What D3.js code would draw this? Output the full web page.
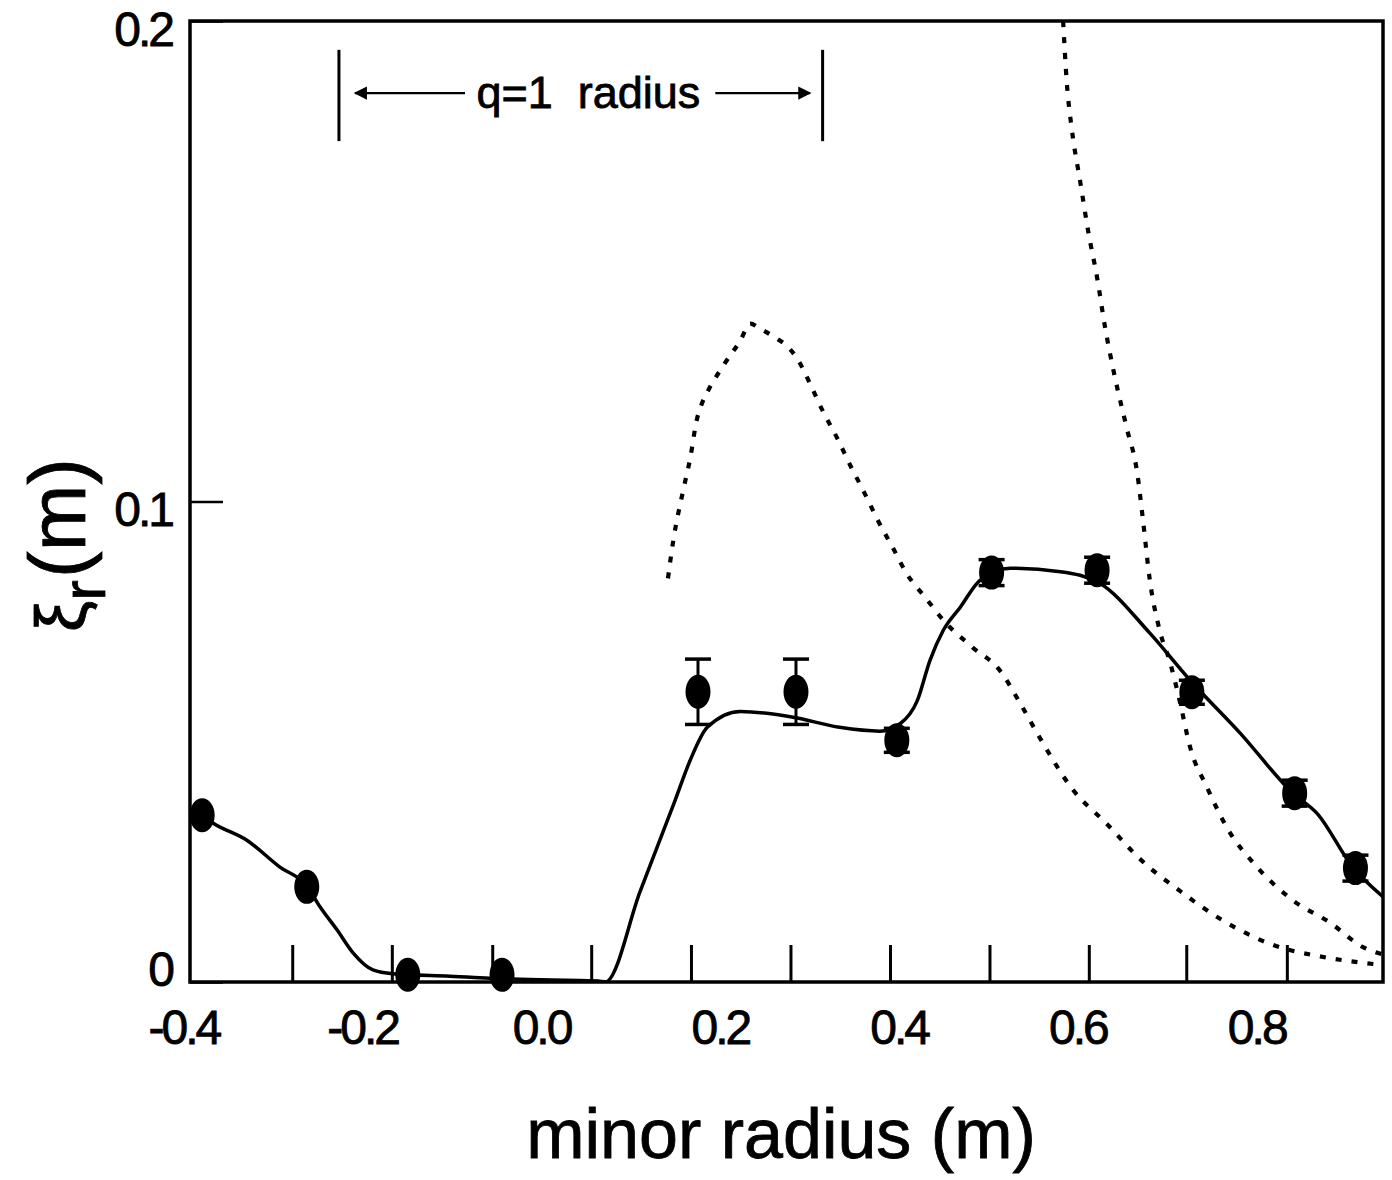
<!DOCTYPE html>
<html>
<head>
<meta charset="utf-8">
<script src="https://cdn.jsdelivr.net/npm/d3@7"></script>
<style>
  body { margin: 0; background: #fff; }
  svg { display: block; font-family: "Liberation Sans", Arial, Helvetica, sans-serif; }
  .tick text { font-size: 48px; letter-spacing: -3px; fill: #000; stroke: #000; stroke-width: 0.8px; }
  .label { fill: #000; stroke: #000; stroke-width: 0.8px; }
</style>
</head>
<body>
<div id="chart"></div>
<script>
// measured points (minor radius in m, displacement in m)
const pointR = [-0.379, -0.262, -0.149, -0.0436, 0.1756, 0.2852, 0.398, 0.504, 0.622, 0.728, 0.843, 0.911];
const pointXi = [0.0347, 0.0198, 0.0015, 0.0015, 0.0604, 0.0604, 0.0503, 0.0852, 0.0857, 0.0603, 0.0393, 0.0237];
const pointErr = [0, 0, 0, 0, 0.0068, 0.0068, 0.0025, 0.0027, 0.0027, 0.0025, 0.0027, 0.0027];

// solid fit through the points
const fitR = [-0.379, -0.367, -0.329, -0.292, -0.262, -0.247, -0.228, -0.210, -0.188, -0.166, -0.102, -0.031, 0.064, 0.072,
  0.111, 0.150, 0.167, 0.186, 0.223, 0.282, 0.334, 0.379, 0.402, 0.421, 0.435, 0.450, 0.469, 0.491, 0.525, 0.581,
  0.625, 0.681, 0.726, 0.782, 0.841, 0.868, 0.908, 0.942];
const fitXi = [0.0347, 0.0331, 0.0295, 0.0239, 0.0200, 0.0156, 0.0108, 0.0060, 0.0025, 0.0017, 0.0012, 0.0006, 0.0002, 0.0,
  0.0189, 0.0378, 0.0462, 0.0530, 0.0563, 0.0551, 0.0530, 0.0522, 0.0538, 0.0586, 0.0669, 0.0732, 0.0780, 0.0836, 0.0861, 0.0854,
  0.0830, 0.0726, 0.0628, 0.0518, 0.0393, 0.0351, 0.0239, 0.0177];

// dotted curve with the peak near 0.24 m
const peakR = [0.142, 0.148, 0.159, 0.167, 0.174, 0.180, 0.187, 0.204, 0.223, 0.234, 0.245, 0.262, 0.275, 0.286, 0.301,
  0.315, 0.331, 0.346, 0.362, 0.377, 0.394, 0.409, 0.430, 0.450, 0.483, 0.513, 0.536, 0.558, 0.595, 0.633, 0.670,
  0.715, 0.760, 0.819, 0.875, 0.919, 0.944];
const peakXi = [0.0840, 0.0919, 0.1023, 0.1091, 0.1168, 0.1204, 0.1231, 0.1283, 0.1335, 0.1370, 0.1360, 0.1341, 0.1324, 0.1299, 0.1245,
  0.1189, 0.1133, 0.1075, 0.1017, 0.0960, 0.0902, 0.0850, 0.0800, 0.0753, 0.0696, 0.0649, 0.0580, 0.0508, 0.0400, 0.0329, 0.0256,
  0.0189, 0.0131, 0.0077, 0.0052, 0.0040, 0.0035];

// steep dotted curve coming down from the top
const steepR = [0.584, 0.588, 0.594, 0.603, 0.612, 0.622, 0.631, 0.642, 0.655, 0.667, 0.673, 0.681, 0.692, 0.704, 0.715,
  0.726, 0.745, 0.767, 0.801, 0.841, 0.883, 0.919, 0.944];
const steepXi = [0.2000, 0.1875, 0.1771, 0.1667, 0.1563, 0.1466, 0.1362, 0.1258, 0.1154, 0.1058, 0.0967, 0.0836, 0.0732, 0.0663, 0.0580,
  0.0489, 0.0405, 0.0322, 0.0239, 0.0170, 0.0123, 0.0073, 0.0056];

const xTickValues = [-0.4, -0.2, 0.0, 0.2, 0.4, 0.6, 0.8];
const xTickLabels = ["-0.4", "-0.2", "0.0", "0.2", "0.4", "0.6", "0.8"];
const yTickValues = [0, 0.1, 0.2];
const yTickLabels = ["0", "0.1", "0.2"];
// short marks along the bottom axis
const channelR = [-0.2777, -0.1663, -0.0540, 0.0567, 0.1683, 0.2796, 0.3909, 0.5022, 0.6133, 0.7223, 0.8348];

// q=1 radius annotation: bar positions, arrow ends, label
const qBars = [-0.226, 0.315];
const qBarSpan = [0.175, 0.194];
const qArrowY = 0.185;
const qArrows = [[-0.085, -0.208], [0.195, 0.301]];
const qLabel = { r: 0.053, xi: 0.1819, text: "q=1  radius" };

const width = 1392, height = 1180;
const x = d3.scaleLinear().domain([-0.3926, 0.9418]).range([190, 1383]);
const y = d3.scaleLinear().domain([0, 0.2]).range([982, 21]);

const svg = d3.select("#chart").append("svg")
    .attr("width", width)
    .attr("height", height);

svg.append("rect").attr("width", width).attr("height", height).attr("fill", "#fff");

let defs = svg.append("defs");
defs.append("clipPath").attr("id", "plot-clip")
    .append("rect")
    .attr("x", x.range()[0]).attr("y", y.range()[1])
    .attr("width", x.range()[1] - x.range()[0])
    .attr("height", y.range()[0] - y.range()[1]);

defs.append("marker")
    .attr("id", "arrow")
    .attr("viewBox", "0 0 10 10")
    .attr("refX", 9).attr("refY", 5)
    .attr("markerWidth", 9).attr("markerHeight", 6)
    .attr("markerUnits", "strokeWidth")
    .attr("orient", "auto")
    .append("path").attr("d", "M0,0 L10,5 L0,10 Z").attr("fill", "#000");

// frame
svg.append("rect")
    .attr("x", x.range()[0]).attr("y", y.range()[1])
    .attr("width", x.range()[1] - x.range()[0])
    .attr("height", y.range()[0] - y.range()[1])
    .attr("fill", "none").attr("stroke", "#000").attr("stroke-width", 3.5);

// axes
let xAxis = d3.axisBottom(x).tickValues(xTickValues)
    .tickFormat((d, i) => xTickLabels[i]).tickSize(0).tickPadding(28);
let gx = svg.append("g").attr("transform", `translate(0,${y(0)})`).call(xAxis);
gx.select(".domain").remove();

let yAxis = d3.axisLeft(y).tickValues(yTickValues)
    .tickFormat((d, i) => yTickLabels[i]).tickSizeInner(-33).tickSizeOuter(0).tickPadding(18);
let gy = svg.append("g").attr("transform", `translate(${x.range()[0]},0)`).call(yAxis);
gy.select(".domain").remove();
gy.selectAll(".tick line").attr("stroke", "#000").attr("stroke-width", 2.5);
gy.selectAll(".tick text").attr("dy", d => d === 0 ? "0.08em" : "0.5em");

svg.append("g").selectAll("line")
    .data(channelR)
    .enter().append("line")
    .attr("x1", d => x(d)).attr("x2", d => x(d))
    .attr("y1", y(0)).attr("y2", y(0) - 37)
    .attr("stroke", "#000").attr("stroke-width", 3);

let plot = svg.append("g").attr("clip-path", "url(#plot-clip)");

let line = d3.line().x(d => x(d[0])).y(d => y(d[1])).curve(d3.curveMonotoneX);

[d3.zip(peakR, peakXi), d3.zip(steepR, steepXi)].forEach(series => {
    plot.append("path")
        .datum(series)
        .attr("d", line)
        .attr("fill", "none").attr("stroke", "#000")
        .attr("stroke-width", 4.2).attr("stroke-dasharray", "6,10");
});

plot.append("path")
    .datum(d3.zip(fitR, fitXi))
    .attr("d", line)
    .attr("fill", "none").attr("stroke", "#000").attr("stroke-width", 3.5);

// points with error bars
let pts = svg.append("g").selectAll("g")
    .data(d3.zip(pointR, pointXi, pointErr))
    .enter().append("g");

pts.filter(d => d[2] > 0).each(function(d) {
    let g = d3.select(this);
    let cx = x(d[0]);
    g.append("line").attr("x1", cx).attr("x2", cx)
        .attr("y1", y(d[1] - d[2])).attr("y2", y(d[1] + d[2]))
        .attr("stroke", "#000").attr("stroke-width", 3);
    [d[1] - d[2], d[1] + d[2]].forEach(v => {
        g.append("line").attr("x1", cx - 13).attr("x2", cx + 13)
            .attr("y1", y(v)).attr("y2", y(v))
            .attr("stroke", "#000").attr("stroke-width", 3.5);
    });
});

pts.append("ellipse")
    .attr("cx", d => x(d[0])).attr("cy", d => y(d[1]))
    .attr("rx", 12.5).attr("ry", 17)
    .attr("fill", "#000");

// q=1 radius annotation
let ann = svg.append("g");
ann.selectAll("line.bar")
    .data(qBars)
    .enter().append("line").attr("class", "bar")
    .attr("x1", d => x(d)).attr("x2", d => x(d))
    .attr("y1", y(qBarSpan[1])).attr("y2", y(qBarSpan[0]))
    .attr("stroke", "#000").attr("stroke-width", 3);
ann.selectAll("line.arr")
    .data(qArrows)
    .enter().append("line").attr("class", "arr")
    .attr("x1", d => x(d[0])).attr("x2", d => x(d[1]))
    .attr("y1", y(qArrowY)).attr("y2", y(qArrowY))
    .attr("stroke", "#000").attr("stroke-width", 2.2)
    .attr("marker-end", "url(#arrow)");
ann.append("text")
    .attr("class", "label")
    .attr("x", x(qLabel.r)).attr("y", y(qLabel.xi))
    .attr("text-anchor", "middle")
    .attr("font-size", 45)
    .attr("xml:space", "preserve")
    .style("white-space", "pre")
    .text(qLabel.text);

// axis titles
svg.append("text")
    .attr("class", "label")
    .attr("x", 781).attr("y", 1158)
    .attr("text-anchor", "middle")
    .attr("font-size", 70)
    .text("minor radius (m)");

let yt = svg.append("text")
    .attr("class", "label")
    .attr("transform", "translate(85,632) rotate(-90)")
    .attr("font-size", 80);
yt.append("tspan").attr("font-size", 70).text("ξ");
yt.append("tspan").attr("dy", 20).attr("font-size", 62).text("r");
yt.append("tspan").attr("dy", -20).attr("dx", 2).text("(m)");
</script>
</body>
</html>
